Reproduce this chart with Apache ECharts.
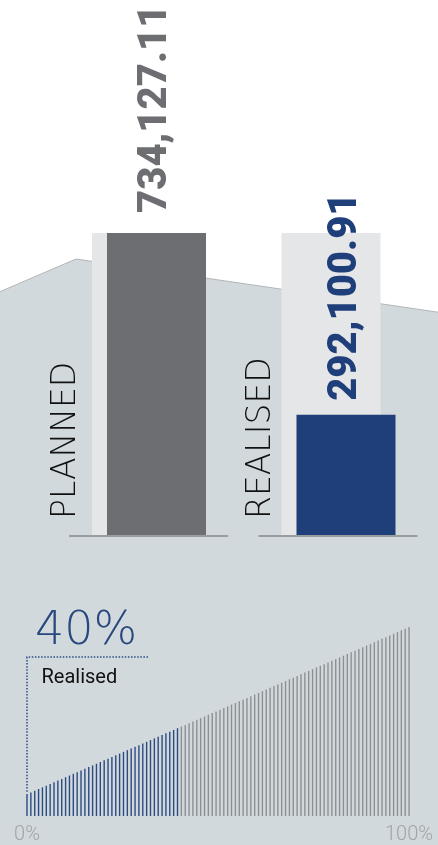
<!DOCTYPE html>
<html><head><meta charset="utf-8">
<script src="https://cdn.jsdelivr.net/npm/echarts@6/dist/echarts.min.js"></script>
<style>html,body{margin:0;padding:0;background:#fff}#c{width:438px;height:845px}</style>
</head><body><div id="c"></div>
<script>
// ---- data ----
const categories = ['PLANNED', 'REALISED'];
const amounts = [734127.11, 292100.91];
const targetAmounts = [734127.11, 734127.11];
const gaugeLabel = ['40%'];
const gaugeCaption = ['Realised'];
const gaugeFilled = [40];
const stripeValues = [13,14,15,16,17,18,19,20,21,22,23,24,25,26,27,28,29,30,31,32,
  33,34,35,36,37,38,39,40,41,42,43,44,45,46,47,48,49,50,51,52,
  53,54,55,56,57,58,59,60,61,62,63,64,65,66,67,68,69,70,71,72,
  73,74,75,76,77,78,79,80,81,82,83,84,85,86,87,88,89,90,91,92,
  93,94,95,96,97,98,99,100,101,102,103,104,105,106,107,108,109,110,111,112];
const stripeTickLabels = ['0%', '100%'];

// ---- styles ----
const BLUE = '#1f3f7a';
const DARK = '#6d6e71';
const LIGHT = '#e5e6e8';
const STRIPE_BLUE = '#2b4a84';
const STRIPE_GREY = '#8c9093';
const BG = '#d2d9dc';

const fmt = v => v.toLocaleString('en-US', {minimumFractionDigits: 2, maximumFractionDigits: 2});
const labelColors = [DARK, BLUE];
const labelDist = [20, 14];
const catOffset = [-25.5, -20];

const chart = echarts.init(document.getElementById('c'), null, {renderer: 'canvas'});
const option = {
  backgroundColor: '#ffffff',
  animation: false,
  graphic: [
    {type: 'polygon', z: -10, silent: true,
     shape: {points: [[-2, 292.5], [76, 259], [440, 312.5], [440, 850], [-2, 850]]},
     style: {fill: BG, stroke: '#b2b5b7', lineWidth: 1}},
    {type: 'text', z: 100, left: 35, top: 609,
     style: {text: gaugeLabel[0], fill: '#28477f', font: '200 46px "DejaVu Sans"'}},
    {type: 'text', z: 100, left: 41.5, top: 668,
     style: {text: gaugeCaption[0], fill: '#111111', font: '400 20px Roboto'}},
    {type: 'polyline', z: 100, silent: true,
     shape: {points: [[148, 657], [27, 657], [27, 792]]},
     style: {stroke: '#2c4c88', lineWidth: 1.5, lineDash: [1.5, 1.6], fill: null}}
  ],
  grid: [
    {left: 54.25, width: 379, top: 123.6, bottom: 310},
    {left: 25.07, width: 385.9, top: 627, bottom: 25.5}
  ],
  xAxis: [
    {type: 'category', gridIndex: 0, data: categories, show: false},
    {type: 'category', gridIndex: 1, data: stripeValues.map((v, i) => i),
     axisLine: {show: false}, axisTick: {show: false},
     axisLabel: {
       interval: i => i === 0 || i === stripeValues.length - 1,
       formatter: (v, i) => i === 0 ? stripeTickLabels[0] : stripeTickLabels[1],
       color: '#a0a4a7', fontFamily: 'Roboto', fontWeight: 300, fontSize: 20, margin: 9
     }}
  ],
  yAxis: [
    {type: 'value', gridIndex: 0, min: 0, max: 1000000, show: false},
    {type: 'value', gridIndex: 1, min: 0, max: 112, show: false}
  ],
  series: [
    {
      type: 'bar', xAxisIndex: 0, yAxisIndex: 0, barWidth: 99, barGap: '-84.85%',
      itemStyle: {color: LIGHT},
      data: targetAmounts.map((v, i) => ({
        value: v,
        label: {
          show: true, position: [catOffset[i], '100%'], offset: [16, 0],
          rotate: 90, align: 'left', verticalAlign: 'middle',
          formatter: categories[i], color: '#111111',
          fontFamily: 'DejaVu Sans', fontWeight: 200, fontSize: 33
        }
      }))
    },
    {
      type: 'bar', xAxisIndex: 0, yAxisIndex: 0, barWidth: 99,
      data: amounts.map((v, i) => ({
        value: v,
        itemStyle: {color: labelColors[i]},
        label: {
          show: true, position: 'top', distance: labelDist[i],
          rotate: 90, align: 'left', verticalAlign: 'middle',
          formatter: fmt(v), color: labelColors[i],
          fontFamily: 'Roboto', fontWeight: 900, fontSize: 40
        }
      }))
    },
    {
      type: 'custom', xAxisIndex: 0, yAxisIndex: 0, z: 5,
      data: amounts.map((v, i) => [i, 0]),
      renderItem: (params, api) => {
        const p = api.coord([api.value(0), 0]);
        return {type: 'line', shape: {x1: p[0] - 80, y1: p[1] + 1, x2: p[0] + 79, y2: p[1] + 1},
                style: {stroke: '#9a9c9f', lineWidth: 2}};
      }
    },
    {
      type: 'bar', xAxisIndex: 1, yAxisIndex: 1, barWidth: 1.4,
      itemStyle: {color: p => p.dataIndex < gaugeFilled[0] ? STRIPE_BLUE : STRIPE_GREY},
      data: stripeValues
    }
  ]
};
chart.setOption(option);
</script></body></html>
